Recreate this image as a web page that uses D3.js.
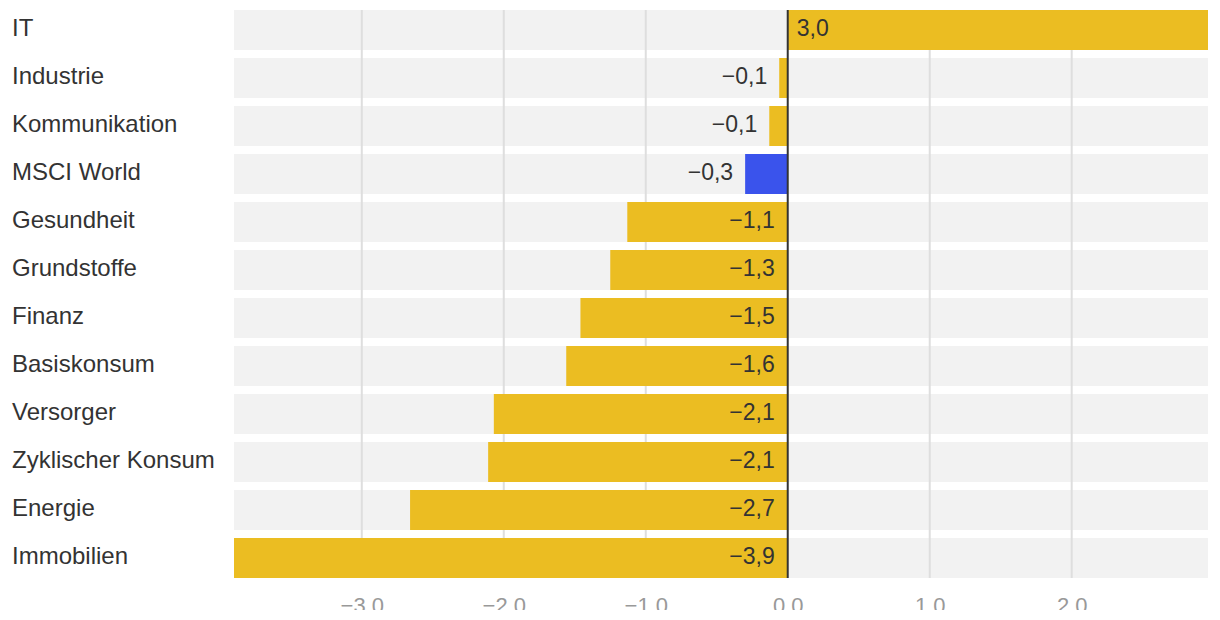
<!DOCTYPE html>
<html>
<head>
<meta charset="utf-8">
<script src="https://cdn.jsdelivr.net/npm/d3@7"></script>
<style>
  html, body { margin: 0; padding: 0; background: #fff; }
  svg { display: block; font-family: "Liberation Sans", Arial, Helvetica, sans-serif; }
</style>
</head>
<body>
<svg id="chart" width="1220" height="610"></svg>
<script>
const categories = ["IT", "Industrie", "Kommunikation", "MSCI World", "Gesundheit", "Grundstoffe", "Finanz", "Basiskonsum", "Versorger", "Zyklischer Konsum", "Energie", "Immobilien"];
const values = [2.96, -0.06, -0.13, -0.30, -1.13, -1.25, -1.46, -1.56, -2.07, -2.11, -2.66, -3.90];
const highlight = ["MSCI World"];
const tickValues = [-3, -2, -1, 0, 1, 2];

(function () {
const data = categories.map((c, i) => ({ cat: c, val: values[i] }));

const svg = d3.select("#chart");
const mLeft = 234, mRight = 1208, mTop = 6, mBottom = 582;

const x = d3.scaleLinear().domain(d3.extent(values)).range([mLeft, mRight]);
const y = d3.scaleBand().domain(categories).range([mTop, mBottom]).paddingInner(1/6).paddingOuter(1/12);

const plotTop = y(categories[0]);
const plotBottom = y(categories[categories.length - 1]) + y.bandwidth();

// background bands
svg.append("g").selectAll("rect").data(data).join("rect")
  .attr("x", mLeft).attr("width", mRight - mLeft)
  .attr("y", d => y(d.cat)).attr("height", y.bandwidth())
  .attr("fill", "#f2f2f2");

// grid lines
svg.append("g").selectAll("line").data(tickValues.filter(t => t !== 0)).join("line")
  .attr("x1", d => x(d)).attr("x2", d => x(d))
  .attr("y1", plotTop).attr("y2", plotBottom)
  .attr("stroke", "#dedede").attr("stroke-width", 2);

// bars
svg.append("g").selectAll("rect").data(data).join("rect")
  .attr("x", d => x(Math.min(0, d.val)))
  .attr("width", d => Math.abs(x(d.val) - x(0)))
  .attr("y", d => y(d.cat)).attr("height", y.bandwidth())
  .attr("fill", d => highlight.includes(d.cat) ? "#3a53ec" : "#ebbd22");

// zero line
svg.append("line")
  .attr("x1", x(0)).attr("x2", x(0))
  .attr("y1", plotTop).attr("y2", plotBottom)
  .attr("stroke", "#333").attr("stroke-width", 2);

const fmtVal = v => d3.format(".1f")(v).replace("-", "\u2212").replace(".", ",");

// value labels: inside near zero when the bar is long enough, otherwise just outside the bar end
const labels = svg.append("g").selectAll("text").data(data).join("text")
  .attr("y", d => y(d.cat) + y.bandwidth() / 2 + 6.3)
  .attr("font-size", 23)
  .attr("fill", "#333")
  .text(d => fmtVal(d.val));
labels.each(function (d) {
  const w = this.getComputedTextLength();
  const barW = Math.abs(x(d.val) - x(0));
  const el = d3.select(this);
  if (d.val < 0) {
    const fits = barW > w + 20;
    el.attr("text-anchor", "end").attr("x", fits ? x(0) - 13 : x(d.val) - 12);
  } else {
    const fits = barW > w + 20;
    el.attr("text-anchor", "start").attr("x", fits ? x(0) + 9 : x(d.val) + 12);
  }
});

// category labels
svg.append("g").selectAll("text").data(data).join("text")
  .attr("x", 12)
  .attr("y", d => y(d.cat) + y.bandwidth() / 2 + 5.5)
  .attr("font-size", 24)
  .attr("fill", "#333")
  .text(d => d.cat);

// x axis
const axis = d3.axisBottom(x).tickValues(tickValues).tickSize(0).tickPadding(0)
  .tickFormat(d => d3.format(".1f")(d).replace("-", "\u2212"));
const gAxis = svg.append("g").attr("transform", `translate(0, ${plotBottom + 19})`).call(axis);
gAxis.select(".domain").remove();
gAxis.selectAll("text").attr("font-size", 22).attr("fill", "#999")
  .attr("font-family", "'Liberation Sans', Arial, sans-serif");
})();
</script>
</body>
</html>
